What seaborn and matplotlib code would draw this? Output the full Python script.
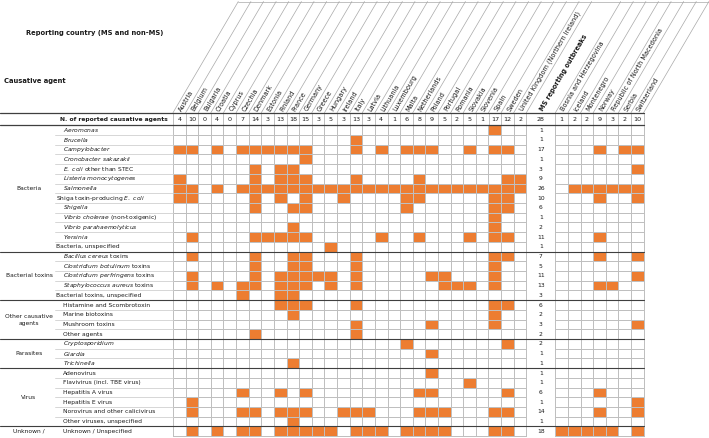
import numpy as np
import pandas as pd
import matplotlib
matplotlib.use("Agg")
import matplotlib.pyplot as plt
import seaborn as sns
from matplotlib.colors import ListedColormap

# ---------------- data ----------------
ms_countries = ["Austria", "Belgium", "Bulgaria", "Croatia", "Cyprus", "Czechia", "Denmark",
                "Estonia", "Finland", "France", "Germany", "Greece", "Hungary", "Ireland",
                "Italy", "Latvia", "Lithuania", "Luxembourg", "Malta", "Netherlands", "Poland",
                "Portugal", "Romania", "Slovakia", "Slovenia", "Spain", "Sweden",
                "United Kingdom (Northern Ireland)"]
non_ms_countries = ["Bosnia and Herzegovina", "Iceland", "Montenegro", "Norway",
                    "Republic of North Macedonia", "Serbia", "Switzerland"]
ms_agent_counts = [4, 10, 0, 4, 0, 7, 14, 3, 13, 18, 15, 3, 5, 3, 13, 3, 4, 1, 6, 8, 9, 5, 2, 5, 1, 17, 12, 2]
ms_total_countries = 28
non_ms_agent_counts = [1, 2, 2, 9, 3, 2, 10]

group_names = ["Bacteria", "Bacterial toxins", "Other causative\nagents", "Parasites", "Virus", "Unknown /"]
group_sizes = [13, 5, 4, 3, 6, 1]

agents = ["*Aeromonas*", "*Brucella*", "*Campylobacter*", "*Cronobacter sakazakii*",
          "*E. coli* other than STEC", "*Listeria monocytogenes*", "*Salmonella*",
          "Shiga toxin-producing *E. coli*", "*Shigella*", "*Vibrio cholerae* (non-toxigenic)",
          "*Vibrio parahaemolyticus*", "*Yersinia*", "Bacteria, unspecified",
          "*Bacillus cereus* toxins", "*Clostridium botulinum* toxins",
          "*Clostridium perfringens* toxins", "*Staphylococcus aureus* toxins",
          "Bacterial toxins, unspecified",
          "Histamine and Scombrotoxin", "Marine biotoxins", "Mushroom toxins", "Other agents",
          "*Cryptosporidium*", "*Giardia*", "*Trichinella*",
          "Adenovirus", "Flavivirus (incl. TBE virus)", "Hepatitis A virus", "Hepatitis E virus",
          "Norovirus and other calicivirus", "Other viruses, unspecified",
          "Unknown / Unspecified"]
ms_reporting = [1, 1, 17, 1, 3, 9, 26, 10, 6, 1, 2, 11, 1,
                7, 5, 11, 13, 3,
                6, 2, 3, 2,
                2, 1, 1,
                1, 1, 6, 1, 14, 1,
                18]

# indices (into ms_countries) of MS reporting each agent
ms_reported = [
    [25], [14],
    [0, 1, 3, 5, 6, 7, 8, 9, 10, 14, 16, 18, 19, 20, 23, 25, 26],
    [10], [6, 8, 9], [0, 6, 8, 9, 10, 14, 19, 26, 27],
    [0, 1, 3, 5, 6, 7, 8, 9, 10, 11, 12, 13, 14, 15, 16, 17, 18, 19, 20, 21, 22, 23, 24, 25, 26, 27],
    [0, 1, 6, 8, 10, 13, 18, 19, 25, 26], [6, 9, 10, 18, 25, 26], [25], [9, 25],
    [1, 6, 7, 8, 9, 10, 16, 19, 23, 25, 26], [12],
    [1, 6, 9, 10, 14, 25, 26], [6, 9, 10, 14, 25],
    [1, 6, 8, 9, 10, 11, 12, 14, 20, 21, 25],
    [1, 3, 5, 6, 8, 9, 10, 12, 14, 21, 22, 23, 25], [5, 8, 9],
    [8, 9, 10, 14, 25, 26], [9, 25], [14, 20, 25], [6, 14],
    [18, 26], [20], [9],
    [20], [23], [5, 8, 10, 19, 20, 26], [1],
    [1, 5, 6, 8, 9, 10, 13, 14, 15, 19, 20, 21, 25, 26], [9],
    [1, 3, 5, 6, 8, 9, 10, 11, 12, 14, 15, 16, 18, 19, 20, 21, 25, 26],
]
# indices (into non_ms_countries) of non-MS reporting each agent
non_ms_reported = [
    [], [], [3, 5, 6], [], [6], [], [1, 2, 3, 4, 5, 6], [3, 6], [], [], [], [3], [],
    [3, 6], [], [6], [3, 4], [],
    [], [], [6], [],
    [], [], [],
    [], [], [3], [6], [3, 6], [],
    [0, 1, 2, 3, 4, 6],
]

# ---------------- tables ----------------
ms_df = pd.DataFrame(0, index=range(len(agents)), columns=ms_countries)
for i, idx in enumerate(ms_reported):
    for j in idx:
        ms_df.iloc[i, j] = 1
nms_df = pd.DataFrame(0, index=range(len(agents)), columns=non_ms_countries)
for i, idx in enumerate(non_ms_reported):
    for j in idx:
        nms_df.iloc[i, j] = 1

# ---------------- layout (pixels) ----------------
W, H = 709, 438
GRID_L, COL_W = 173.0, 12.62
MS_R = GRID_L + COL_W * len(ms_countries)
NMS_L, NCOL_W = 555.4, 12.6
NMS_R = NMS_L + NCOL_W * len(non_ms_countries)
HDR_T, GRID_T, GRID_B = 112.7, 125.3, 436.2
LABEL_L = 55.0
n_rows = len(agents)
ROW_H = (GRID_B - GRID_T) / n_rows
ORANGE = "#ED7D31"
GRID_C = "#BFBFBF"
DARK = "#3F3F3F"
TXT = "#1A1A1A"
FS = 4.3

sns.set_theme(style="white")
plt.rcParams["font.family"] = ["DejaVu Sans"]
plt.rcParams["mathtext.fontset"] = "custom"
plt.rcParams["mathtext.it"] = "DejaVu Sans:italic"
plt.rcParams["mathtext.rm"] = "DejaVu Sans"

fig = plt.figure(figsize=(W / 100, H / 100), dpi=100)
fig.patch.set_facecolor("white")


def add_px_axes(x0, y0, x1, y1, **kw):
    return fig.add_axes([x0 / W, 1 - y1 / H, (x1 - x0) / W, (y1 - y0) / H], **kw)


cmap = ListedColormap(["white", ORANGE])
for df, (x0, x1) in [(ms_df, (GRID_L, MS_R)), (nms_df, (NMS_L, NMS_R))]:
    ax = add_px_axes(x0, GRID_T, x1, GRID_B)
    sns.heatmap(df, ax=ax, cmap=cmap, vmin=0, vmax=1, cbar=False,
                linewidths=0.7, linecolor=GRID_C, xticklabels=False, yticklabels=False)
    ax.collections[0].set_clip_on(False)
    ax.set_xlabel("")
    ax.set_ylabel("")

ax0 = add_px_axes(0, 0, W, H, zorder=5)
ax0.set_xlim(0, W)
ax0.set_ylim(H, 0)
ax0.axis("off")
ax0.patch.set_alpha(0)


def fmt(label):
    parts = label.split("*")
    out = ""
    for k, p in enumerate(parts):
        if k % 2 == 1:
            out += r"$\it{" + p.replace(" ", r"\ ") + "}$"
        else:
            out += p
    return out


row_c = [GRID_T + ROW_H * (i + 0.5) for i in range(n_rows)]

# light row lines in the agent label column
for i in range(1, n_rows):
    yb = GRID_T + ROW_H * i
    ax0.plot([LABEL_L, GRID_L], [yb, yb], color="#D0D0D0", lw=0.6, zorder=1)

# agent labels + MS reporting column
outdent = {"Shiga toxin-producing *E. coli*", "Bacteria, unspecified", "Bacterial toxins, unspecified"}
for i, lab in enumerate(agents):
    xl = 56.5 if lab in outdent else 63
    ax0.text(xl, row_c[i], fmt(lab), fontsize=FS, color=TXT, ha="left", va="center")
    ax0.text((MS_R + NMS_L) / 2, row_c[i], str(ms_reporting[i]), fontsize=FS, color=TXT,
             ha="center", va="center")

# group labels + separators
start = 0
for g, n in zip(group_names, group_sizes):
    yc = GRID_T + ROW_H * (start + n / 2)
    ax0.text(29, yc, g, fontsize=FS, color=TXT, ha="center", va="center", linespacing=1.5)
    start += n
    if start < n_rows:
        yb = GRID_T + ROW_H * start
        ax0.plot([0, NMS_R], [yb, yb], color=DARK, lw=0.8, zorder=3)

# header row with counts
for y in (HDR_T, GRID_T):
    ax0.plot([0, NMS_R], [y, y], color=DARK, lw=0.9, zorder=3)
ax0.text(168, (HDR_T + GRID_T) / 2, "N. of reported causative agents", fontsize=FS,
         fontweight="bold", color=TXT, ha="right", va="center")
ms_centers = [GRID_L + COL_W * (j + 0.5) for j in range(len(ms_countries))]
nms_centers = [NMS_L + NCOL_W * (j + 0.5) for j in range(len(non_ms_countries))]
ms_col_c = (MS_R + NMS_L) / 2
for cx, v in zip(ms_centers, ms_agent_counts):
    ax0.text(cx, (HDR_T + GRID_T) / 2 + 0.3, str(v), fontsize=FS + 0.3, color=TXT, ha="center", va="center")
ax0.text(ms_col_c, (HDR_T + GRID_T) / 2 + 0.3, str(ms_total_countries), fontsize=FS + 0.3,
         color=TXT, ha="center", va="center")
for cx, v in zip(nms_centers, non_ms_agent_counts):
    ax0.text(cx, (HDR_T + GRID_T) / 2 + 0.3, str(v), fontsize=FS + 0.3, color=TXT, ha="center", va="center")

bounds = [GRID_L + COL_W * k for k in range(len(ms_countries) + 1)] + \
         [NMS_L + NCOL_W * k for k in range(len(non_ms_countries) + 1)]
for b in bounds:
    ax0.plot([b, b], [HDR_T + 0.6, GRID_T - 0.6], color=GRID_C, lw=0.7)

# slanted header
TOP = 1.5
slope = 1.703
for b in bounds:
    ax0.plot([b, b + (HDR_T - TOP) / slope], [HDR_T, TOP], color="#A8A8A8", lw=0.5)
ax0.plot([bounds[0] + (HDR_T - TOP) / slope, bounds[-1] + (HDR_T - TOP) / slope], [TOP, TOP],
         color="#A8A8A8", lw=0.5)

ang = np.degrees(np.arctan(slope))
for cx, name in zip(ms_centers, ms_countries):
    ax0.text(cx + 1.0, HDR_T - 2.2, name, fontsize=4.7, color=TXT, rotation=ang,
             rotation_mode="anchor", ha="left", va="center")
ax0.text(ms_col_c + 1.0, HDR_T - 2.2, "MS reporting outbreaks", fontsize=4.7, color=TXT,
         fontweight="bold", rotation=ang, rotation_mode="anchor", ha="left", va="center")
for cx, name in zip(nms_centers, non_ms_countries):
    ax0.text(cx + 1.0, HDR_T - 2.2, name, fontsize=4.7, color=TXT, rotation=ang,
             rotation_mode="anchor", ha="left", va="center")

ax0.text(163, 33, "Reporting country (MS and non-MS)", fontsize=4.9, fontweight="bold",
         color=TXT, ha="right", va="center")
ax0.text(4, 81, "Causative agent", fontsize=4.9, fontweight="bold", color=TXT,
         ha="left", va="center")

fig.savefig("out.png", dpi=100, facecolor="white")
